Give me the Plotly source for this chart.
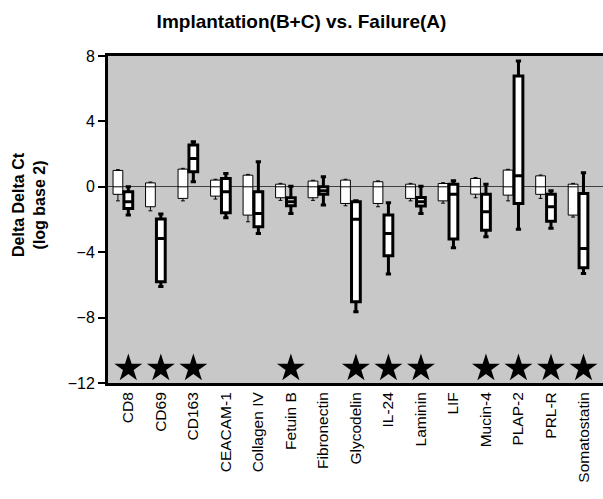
import plotly.graph_objects as go

genes = ["CD8", "CD69", "CD163", "CEACAM-1", "Collagen IV", "Fetuin B", "Fibronectin",
         "Glycodelin", "IL-24", "Laminin", "LIF", "Mucin-4", "PLAP-2", "PRL-R", "Somatostatin"]

# Failure (A) - thin boxes
a_upper = [1.05, 0.29, 1.13, 0.46, 0.76, 0.21, 0.40, 0.46, 0.36, 0.21, 0.25, 0.56, 1.07, 0.72, 0.21]
a_q3 = [1.00, 0.24, 1.08, 0.41, 0.71, 0.16, 0.35, 0.41, 0.31, 0.16, 0.20, 0.51, 1.02, 0.67, 0.16]
a_median = [0.0] * 15
a_q1 = [-0.46, -1.22, -0.71, -0.57, -1.73, -0.67, -0.67, -1.02, -1.02, -0.71, -0.86, -0.45, -0.51, -0.46, -1.73]
a_lower = [-0.86, -1.47, -0.86, -0.75, -2.14, -0.83, -0.83, -1.16, -1.22, -0.86, -1.00, -0.67, -0.86, -0.71, -1.85]

# Implantation (B+C) - thick boxes
b_upper = [0.00, -1.67, 2.75, 0.82, 1.53, 0.04, 0.61, -0.86, -0.98, 0.04, 0.37, 0.15, 7.70, -0.24, 0.86]
b_q3 = [-0.31, -1.97, 2.55, 0.51, -0.30, -0.67, 0.00, -0.92, -1.73, -0.65, 0.15, -0.45, 6.77, -0.45, -0.41]
b_median = [-0.92, -3.16, 1.73, -0.30, -1.63, -0.92, -0.24, -1.99, -2.85, -0.92, -0.45, -1.53, 0.67, -1.22, -3.77]
b_q1 = [-1.32, -5.80, 0.92, -1.59, -2.44, -1.16, -0.46, -7.03, -4.22, -1.18, -3.20, -2.65, -1.02, -2.10, -4.95]
b_lower = [-1.73, -6.10, 0.31, -1.90, -2.85, -1.63, -1.12, -7.64, -5.34, -1.63, -3.73, -3.06, -2.60, -2.54, -5.30]

significant = ["CD8", "CD69", "CD163", "Fetuin B", "Glycodelin", "IL-24", "Laminin",
               "Mucin-4", "PLAP-2", "PRL-R", "Somatostatin"]
star_level = -11.1

pos = list(range(len(genes)))
a_offset = -0.32
a_pos = [p + a_offset for p in pos]

fig = go.Figure()
fig.add_trace(go.Box(
    x=a_pos, q1=a_q1, median=a_median, q3=a_q3, lowerfence=a_lower, upperfence=a_upper,
    width=0.3, whiskerwidth=0.4, fillcolor="white",
    line=dict(color="black", width=1), boxpoints=False, hoverinfo="skip",
))
fig.add_trace(go.Box(
    x=pos, q1=b_q1, median=b_median, q3=b_q3, lowerfence=b_lower, upperfence=b_upper,
    width=0.27, whiskerwidth=0.6, fillcolor="white",
    line=dict(color="black", width=3), boxpoints=False, hoverinfo="skip",
))
fig.add_trace(go.Scatter(
    x=[genes.index(g) for g in significant], y=[star_level] * len(significant),
    mode="markers", marker=dict(symbol="star", size=21, color="black"),
    hoverinfo="skip",
))

font_family = "Liberation Sans, Arial, sans-serif"
L, R, T, B = 108, 0, 56, 116
W, H = 603, 499
fig.update_layout(
    width=W, height=H,
    margin=dict(l=L, r=R, t=T, b=B, autoexpand=False),
    paper_bgcolor="white", plot_bgcolor="#c8c8c8",
    showlegend=False,
    font=dict(family=font_family, color="black"),
    title=dict(text="<b>Implantation(B+C) vs. Failure(A)</b>", x=0.5, xanchor="center",
               y=1 - 21 / H, yanchor="middle", yref="container", automargin=False,
               font=dict(size=19, family=font_family, color="black")),
    xaxis=dict(range=[-0.625, 14.6], tickmode="array", tickvals=pos, ticktext=genes,
               tickangle=-90, tickfont=dict(size=15.5), ticks="", showgrid=False,
               automargin=False,
               zeroline=False, showline=True, linecolor="black", linewidth=3, mirror=True),
    yaxis=dict(range=[-12, 8], tickvals=[-12, -8, -4, 0, 4, 8], ticks="outside",
               ticklen=7, tickwidth=2, tickcolor="black", tickfont=dict(size=16),
               showgrid=False, zeroline=True, zerolinecolor="#404040", zerolinewidth=1,
               automargin=False,
               showline=True, linecolor="black", linewidth=3),
    annotations=[dict(text="<b>Delta Delta Ct<br>(log base 2)</b>", textangle=-90,
                      x=(29 - L) / (W - L - R), xref="paper", xanchor="center",
                      y=(H - B - 205) / (H - T - B), yref="paper", yanchor="middle",
                      showarrow=False,
                      font=dict(size=16, family=font_family, color="black"))],
)

fig.write_html("out.html",
               config={"displayModeBar": False, "staticPlot": True},
               post_script="document.body.style.margin='0';document.body.style.padding='0';"
                           "document.body.style.overflow='hidden';")
